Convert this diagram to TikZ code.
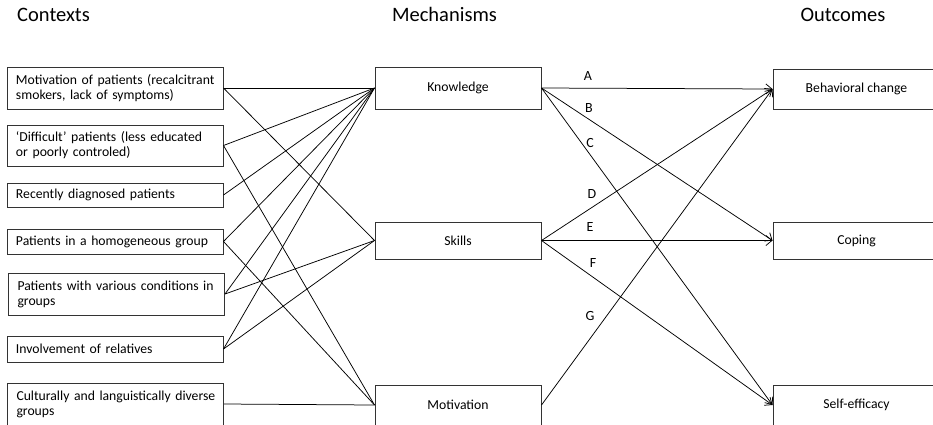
\documentclass[tikz,border=0pt]{standalone}
\usepackage{fontspec}
\setmainfont{Carlito}
\usetikzlibrary{arrows.meta}
\begin{document}
\begin{tikzpicture}[x=1pt,y=-1pt,
  font=\fontsize{13.7}{15}\selectfont,
  box/.style={draw=black!80, line width=1pt},
  ctxbox/.style={box, inner xsep=9pt, inner ysep=0pt, text width=198pt, align=left, minimum height=#1},
  midbox/.style={box, inner sep=0pt, minimum width=166pt, minimum height=#1},
  outbox/.style={box, inner sep=0pt, minimum width=167pt, minimum height=#1},
  heading/.style={font=\fontsize{20.5}{23}\selectfont, inner sep=0pt},
  lbl/.style={font=\fontsize{14}{16}\selectfont, inner sep=0pt},
  conn/.style={line width=0.75pt, black},
  arr/.style={conn, -{Straight Barb[length=6pt,width=10pt,line width=0.75pt]}}
]
\useasboundingbox (0,0) rectangle (933,424);
\clip (0,0) rectangle (933,424);

% headings
\node[heading, anchor=base west] (hctx) at (17,21) {Contexts};
\node[heading, anchor=base] (hmech) at (444.5,21) {Mechanisms};
\node[heading, anchor=base] (hout) at (843,21) {Outcomes};

% contexts
\node[ctxbox=42pt] (c1) at (115,88) {\mbox{Motivation of patients (recalcitrant}\\\mbox{smokers, lack of symptoms)}};
\node[ctxbox=41pt] (c2) at (115,145.5) {\mbox{‘Difficult’ patients (less educated}\\\mbox{or poorly controled)}};
\node[ctxbox=24pt] (c3) at (115,195) {\mbox{Recently diagnosed patients}};
\node[ctxbox=25pt] (c4) at (115,241.5) {\mbox{Patients in a homogeneous group}};
\node[ctxbox=42pt] (c5) at (116.5,294) {\mbox{Patients with various conditions in}\\\mbox{groups}};
\node[ctxbox=26pt] (c6) at (115,349) {\mbox{Involvement of relatives}};
\node[ctxbox=42pt] (c7) at (115.5,404) {\mbox{Culturally and languistically diverse}\\\mbox{groups}};

% mechanisms
\node[midbox=42pt] (know) at (458,88) {Knowledge};
\node[midbox=37pt] (skills) at (458,240.5) {Skills};
\node[midbox=40pt] (motiv) at (458,405) {Motivation};

% outcomes
\node[outbox=40pt] (beh) at (856.5,89) {Behavioral change};
\node[outbox=37pt] (cop) at (856.5,240.5) {Coping};
\node[outbox=40pt] (self) at (856.5,405) {Self-efficacy};

% context -> mechanism
\draw[conn] (c1.east) -- (know.west);
\draw[conn] (c1.east) -- (skills.west);
\draw[conn] (c2.east) -- (know.west);
\draw[conn] (c2.east) -- (motiv.west);
\draw[conn] (c3.east) -- (know.west);
\draw[conn] (c4.east) -- (know.west);
\draw[conn] (c4.east) -- (motiv.west);
\draw[conn] (c5.east) -- (know.west);
\draw[conn] (c5.east) -- (skills.west);
\draw[conn] (c6.east) -- (know.west);
\draw[conn] (c6.east) -- (skills.west);
\draw[conn] (c7.east) -- (motiv.west);

% mechanism -> outcome
\draw[arr] (know.east) -- (beh.west);
\draw[arr] (know.east) -- (cop.west);
\draw[arr] (know.east) -- (self.west);
\draw[arr] (skills.east) -- (beh.west);
\draw[arr] (skills.east) -- (cop.west);
\draw[arr] (skills.east) -- (self.west);
\draw[arr] (motiv.east) -- (beh.west);

% labels
\node[lbl] (la) at (588,76) {A};
\node[lbl] (lb) at (589,108) {B};
\node[lbl] (lc) at (590,143) {C};
\node[lbl] (ld) at (592,194) {D};
\node[lbl] (le) at (590,227) {E};
\node[lbl] (lf) at (593,263) {F};
\node[lbl] (lg) at (590,316) {G};
\end{tikzpicture}
\end{document}
